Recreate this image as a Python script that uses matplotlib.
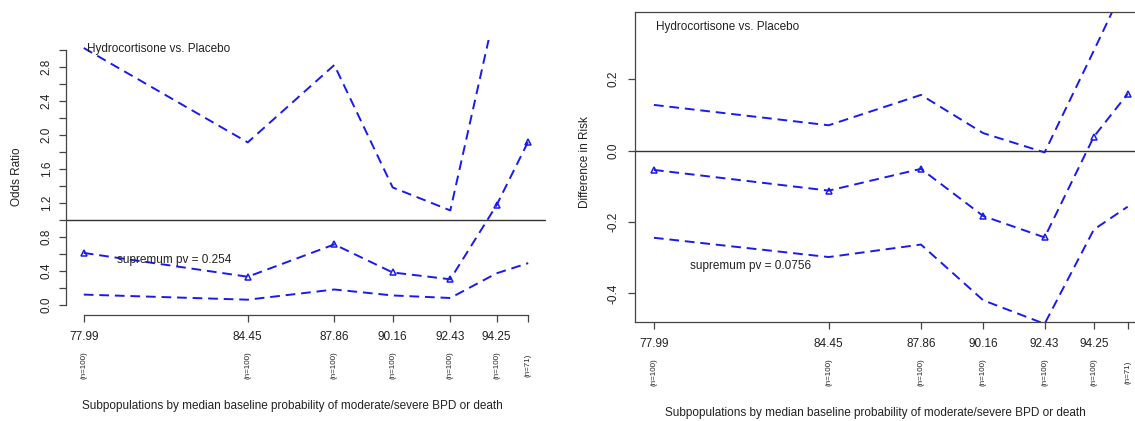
import matplotlib
matplotlib.use("Agg")
import matplotlib.pyplot as plt
from matplotlib.transforms import blended_transform_factory

plt.rcParams['font.family'] = ['Liberation Sans', 'DejaVu Sans']

# subpopulation medians (last tick is unlabelled in the original)
x_pos = [77.99, 84.45, 87.86, 90.16, 92.43, 94.25, 95.5]
x_labels = ['77.99', '84.45', '87.86', '90.16', '92.43', '94.25', '']
n_labels = ['(n=100)', '(n=100)', '(n=100)', '(n=100)', '(n=100)', '(n=100)', '(n=71)']

# odds ratio panel
or_est = [0.61, 0.33, 0.71, 0.38, 0.30, 1.17, 1.92]
or_lo = [0.12, 0.06, 0.18, 0.11, 0.08, 0.37, 0.49]
or_hi = [3.02, 1.91, 2.82, 1.38, 1.11, 3.53, 6.0]

# difference in risk panel
dr_est = [-0.054, -0.112, -0.051, -0.183, -0.243, 0.039, 0.159]
dr_lo = [-0.244, -0.298, -0.263, -0.419, -0.485, -0.221, -0.157]
dr_hi = [0.128, 0.071, 0.156, 0.049, -0.005, 0.28, 0.48]

xlab = "Subpopulations by median baseline probability of moderate/severe BPD or death"
blue = '#1a1aee'
axcol = '#444444'
txtcol = '#222222'
fs = 8.5

fig = plt.figure(figsize=(11.35, 4.21), dpi=100)
W, H = 1135, 421


def px_axes(l, t, r, b):
    return fig.add_axes([l / W, 1 - b / H, (r - l) / W, (b - t) / H])


def draw_lines(ax, est, lo, hi):
    kw = dict(color=blue, lw=1.4, dashes=(5, 3))
    ax.plot(x_pos, hi, **kw)
    ax.plot(x_pos, lo, **kw)
    ax.plot(x_pos, est, marker='^', mfc='none', mec=blue, ms=5, mew=1.1, **kw)


def style_axis(ax, pad_x, pad_y, n_y):
    ax.set_xticks(x_pos)
    ax.set_xticklabels(x_labels)
    ax.tick_params(axis='both', length=5, width=0.9, color=axcol,
                   labelsize=fs, labelcolor=txtcol)
    ax.tick_params(axis='x', pad=pad_x)
    ax.tick_params(axis='y', pad=pad_y)
    for lab in ax.get_yticklabels():
        lab.set_rotation(90)
        lab.set_va('center')
    tr = blended_transform_factory(ax.transData, fig.transFigure)
    for x, n in zip(x_pos, n_labels):
        ax.text(x, n_y, n, transform=tr, rotation=90, ha='center', va='center',
                fontsize=5.8, color=txtcol)
    for s in ax.spines.values():
        s.set_color(axcol)
        s.set_linewidth(0.9)


# ---- left: odds ratio ----
ax1 = px_axes(66, 39.5, 546, 315)
draw_lines(ax1, or_est, or_lo, or_hi)
ax1.axhline(1.0, color='#333333', lw=1.0)
ax1.set_xlim(77.29, 96.2)
ax1.set_ylim(-0.12, 3.12)
ax1.set_yticks([round(0.2 * i, 1) for i in range(16)])
ax1.set_yticklabels([f'{0.2 * i:.1f}' if i % 2 == 0 and i < 15 else '' for i in range(16)])
for s in ['top', 'right']:
    ax1.spines[s].set_visible(False)
ax1.spines['left'].set_bounds(0, 3.0)
ax1.spines['bottom'].set_bounds(x_pos[0], x_pos[-1])
style_axis(ax1, pad_x=6.5, pad_y=4.5, n_y=1 - 365 / H)
ax1.text(78.1, 3.01, 'Hydrocortisone vs. Placebo', ha='left', va='center', fontsize=fs, color=txtcol)
ax1.text(79.3, 0.53, 'supremum pv = 0.254', ha='left', va='center', fontsize=fs, color=txtcol)
fig.text(17 / W, 1 - 177 / H, 'Odds Ratio', rotation=90, ha='center', va='center',
         fontsize=fs, color=txtcol)
fig.text(292 / W, 1 - 406 / H, xlab, ha='center', va='center', fontsize=fs, color=txtcol)

# ---- right: difference in risk ----
ax2 = px_axes(635, 11.7, 1146.6, 321.7)
draw_lines(ax2, dr_est, dr_lo, dr_hi)
ax2.axhline(0.0, color='#333333', lw=1.0)
ax2.set_xlim(77.29, 96.2)
ax2.set_ylim(-0.479, 0.389)
ax2.set_yticks([-0.4, -0.2, 0.0, 0.2])
ax2.set_yticklabels(['-0.4', '-0.2', '0.0', '0.2'])
style_axis(ax2, pad_x=7, pad_y=6.5, n_y=1 - 372.5 / H)
ax2.text(78.08, 0.347, 'Hydrocortisone vs. Placebo', ha='left', va='center', fontsize=fs, color=txtcol)
ax2.text(79.32, -0.323, 'supremum pv = 0.0756', ha='left', va='center', fontsize=fs, color=txtcol)
fig.text(585 / W, 1 - 162.5 / H, 'Difference in Risk', rotation=90, ha='center', va='center',
         fontsize=fs, color=txtcol)
fig.text(875.5 / W, 1 - 413 / H, xlab, ha='center', va='center', fontsize=fs, color=txtcol)

fig.savefig('out.png', dpi=100, facecolor='white')
